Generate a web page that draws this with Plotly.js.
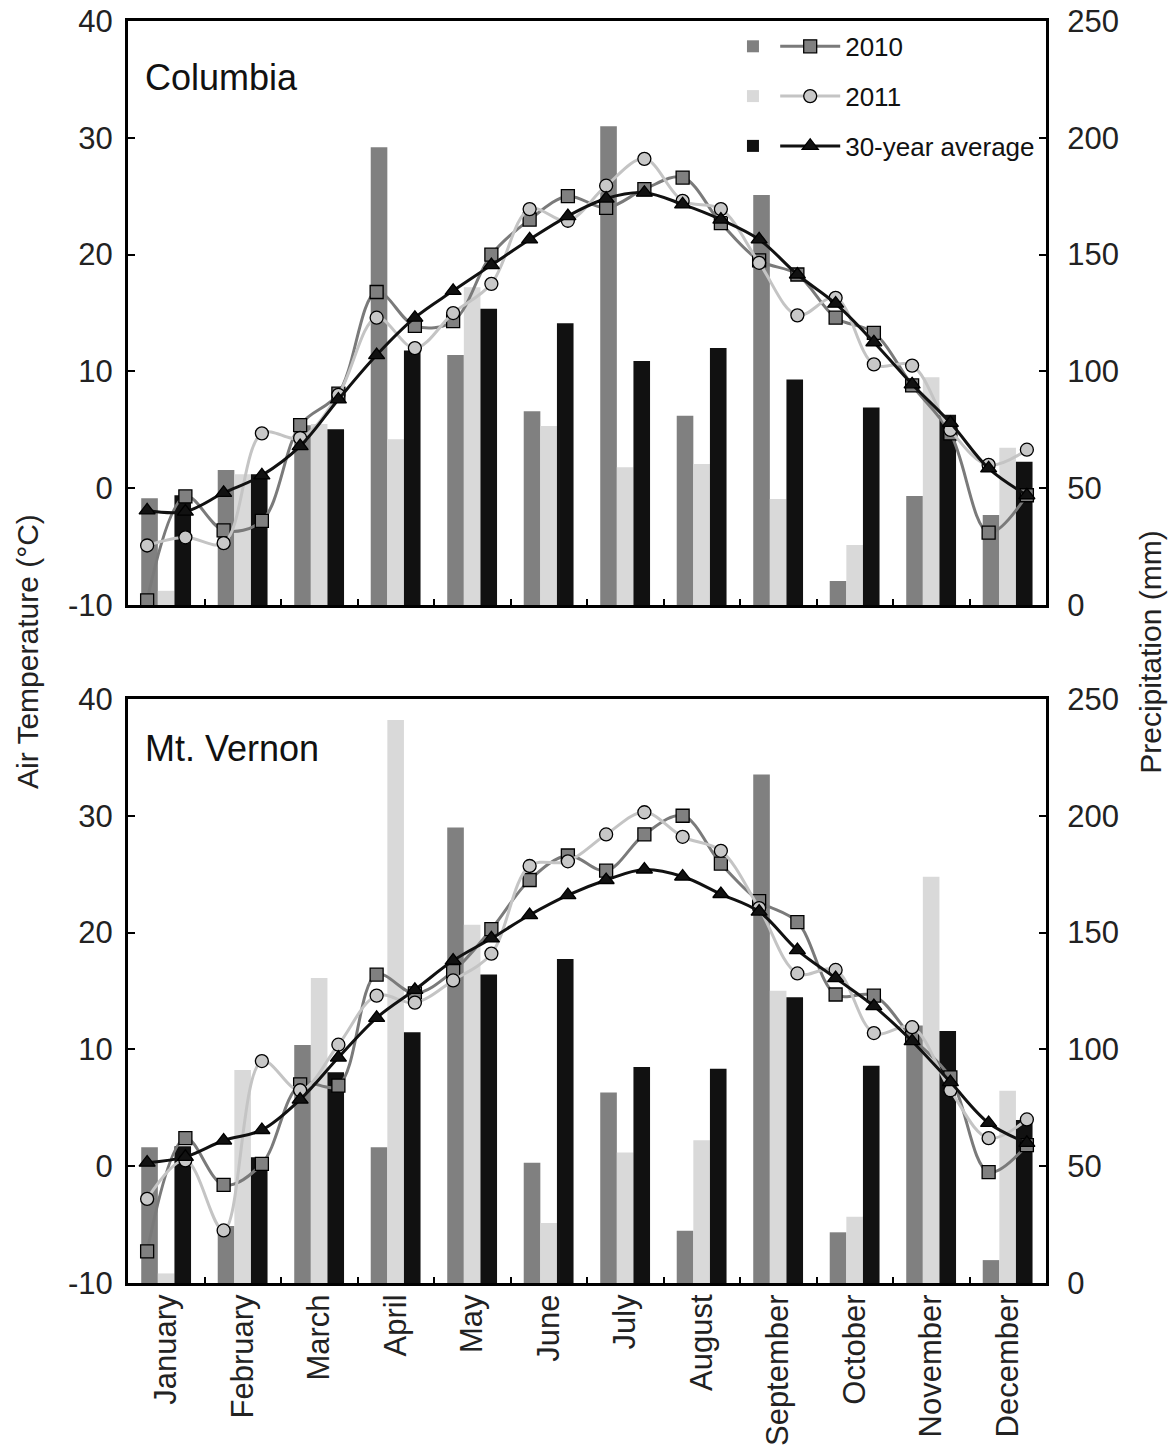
<!DOCTYPE html>
<html>
<head>
<meta charset="utf-8">
<script src="https://cdn.plot.ly/plotly-3.0.1.min.js"></script>
<style>html,body{margin:0;padding:0;background:#fff;}</style>
</head>
<body>
<div id="chart" style="width:1174px;height:1455px;"></div>
<script>
const months = ["January","February","March","April","May","June","July","August","September","October","November","December"];
const seriesNames = ["2010","2011","30-year average"];

// Precipitation (mm), monthly
const colPrecip2010 = [45.7, 57.8, 77, 196, 107, 83, 205, 81, 175.5, 10.3, 46.7, 38.5];
const colPrecip2011 = [6.1, 56, 77.5, 71, 136, 76.6, 59, 60.4, 45.4, 25.7, 97.5, 67.3];
const colPrecip30yr = [47, 56, 75.2, 109, 126.8, 120.6, 104.5, 110, 96.6, 84.6, 81.5, 61.3];

const mvPrecip2010 = [58.1, 24.4, 101.9, 58.1, 195, 51.5, 81.5, 22.4, 217.7, 21.7, 110.2, 9.8];
const mvPrecip2011 = [4.1, 91.2, 130.6, 241, 153.4, 25.7, 55.9, 61.1, 125.1, 28.4, 173.9, 82.3];
const mvPrecip30yr = [58.5, 53.8, 90.2, 107.3, 132, 138.7, 92.5, 91.7, 122.3, 93.0, 107.9, 69.8];

// Air temperature (°C), semi-monthly (two values per month)
const colTemp2010 = [-9.6, -0.7, -3.6, -2.8, 5.4, 8.1, 16.8, 13.9, 14.3, 20.0, 23.0, 25.0, 24.0, 25.6, 26.6, 22.7, 19.5, 18.3, 14.6, 13.3, 8.8, 4.7, -3.8, -0.6];
const colTemp2011 = [-4.9, -4.2, -4.7, 4.7, 4.3, 8.0, 14.6, 12.0, 15.0, 17.5, 23.9, 22.9, 25.9, 28.2, 24.6, 23.9, 19.3, 14.8, 16.3, 10.6, 10.5, 5.0, 2.0, 3.3];
const colTemp30yr = [-1.9, -2.0, -0.4, 1.1, 3.6, 7.6, 11.4, 14.6, 16.9, 19.1, 21.3, 23.3, 24.8, 25.3, 24.3, 23.0, 21.3, 18.3, 15.8, 12.5, 8.9, 5.6, 1.7, -0.6];

const mvTemp2010 = [-7.3, 2.4, -1.6, 0.2, 7.0, 6.9, 16.4, 14.8, 16.7, 20.3, 24.5, 26.6, 25.3, 28.4, 30.0, 25.9, 22.7, 20.9, 14.7, 14.6, 11.0, 7.6, -0.5, 1.8];
const mvTemp2011 = [-2.8, 0.5, -5.5, 9.0, 6.5, 10.4, 14.6, 14.0, 15.9, 18.2, 25.7, 26.1, 28.4, 30.3, 28.2, 27.0, 22.1, 16.5, 16.8, 11.4, 11.9, 6.5, 2.4, 4.0];
const mvTemp30yr = [0.3, 0.8, 2.2, 3.1, 5.7, 9.3, 12.7, 15.1, 17.6, 19.5, 21.5, 23.2, 24.5, 25.4, 24.8, 23.3, 21.8, 18.5, 16.1, 13.7, 10.7, 7.2, 3.7, 2.0];

const tempTicks = [-10, 0, 10, 20, 30, 40];
const tempTickLabels = ["-10", "0", "10", "20", "30", "40"];
const precipTicks = [0, 50, 100, 150, 200, 250];
const precipTickLabels = ["0", "50", "100", "150", "200", "250"];

// positions (month index scale)
const monthCenters = months.map((m, i) => i + 0.5);
const halfMonthX = colTemp2010.map((v, i) => i / 2 + 0.25);
const boundaries = months.slice(1).map((m, i) => i + 1);

const FONT = "Liberation Sans, Arial, Helvetica, sans-serif";
const barColors = ["#808080", "#d9d9d9", "#111111"];
const lineColors = ["#7a7a7a", "#c4c4c4", "#111111"];
const markerFill = ["#808080", "#c8c8c8", "#111111"];
const symbols = ["square", "circle", "triangle-up"];
const msizes = [13, 13, 14];
const barOffsets = [-0.327, -0.110, 0.107];
const barWidth = 0.217;

function barTraces(vals, xa, ya, show) {
  return vals.map((v, k) => ({
    type: "bar", x: monthCenters, y: v, xaxis: xa, yaxis: ya,
    width: barWidth, offset: barOffsets[k],
    marker: {color: barColors[k], line: {width: 0}},
    name: " ", legend: "legend", legendgroup: "b" + k, showlegend: show,
    hoverinfo: "skip"
  }));
}
function lineTraces(vals, xa, ya, show) {
  return vals.map((v, k) => ({
    type: "scatter", mode: "lines+markers", x: halfMonthX, y: v, xaxis: xa, yaxis: ya,
    line: {color: lineColors[k], width: 3, shape: "spline", smoothing: 1},
    marker: {symbol: symbols[k], size: msizes[k], color: markerFill[k], line: {color: "#000", width: 1.3}},
    name: seriesNames[k], legend: "legend2", legendgroup: "l" + k, showlegend: show,
    hoverinfo: "skip"
  }));
}

const data = [].concat(
  barTraces([colPrecip2010, colPrecip2011, colPrecip30yr], "x", "y", true),
  lineTraces([colTemp2010, colTemp2011, colTemp30yr], "x", "y2", true),
  barTraces([mvPrecip2010, mvPrecip2011, mvPrecip30yr], "x2", "y3", false),
  lineTraces([mvTemp2010, mvTemp2011, mvTemp30yr], "x2", "y4", false)
);

const tickFont = {family: FONT, size: 31, color: "#222"};
function xAxis(anchor, labels) {
  return {
    domain: [0, 1], anchor: anchor, range: [0, 12],
    tickmode: "array", tickvals: monthCenters, ticktext: months,
    showticklabels: labels, ticks: "", tickangle: -90, tickfont: tickFont,
    ticklabelstandoff: -4,
    minor: {tickmode: "array", tickvals: boundaries, ticks: "inside", ticklen: 6, tickwidth: 2, tickcolor: "#000", showgrid: false},
    showline: true, linecolor: "#000", linewidth: 3, mirror: true,
    showgrid: false, zeroline: false, fixedrange: true
  };
}
function precipAxis(domain, anchor) {
  return {
    domain: domain, anchor: anchor, side: "right", range: [0, 250],
    tickmode: "array", tickvals: precipTicks, ticktext: precipTickLabels,
    ticks: "inside", ticklen: 7, tickwidth: 2, tickcolor: "#000",
    tickfont: tickFont, ticklabelstandoff: 12,
    showline: true, linecolor: "#000", linewidth: 3,
    showgrid: false, zeroline: false, fixedrange: true
  };
}
function tempAxis(over, anchor) {
  return {
    overlaying: over, anchor: anchor, side: "left", range: [-10, 40],
    tickmode: "array", tickvals: tempTicks, ticktext: tempTickLabels,
    ticks: "inside", ticklen: 7, tickwidth: 2, tickcolor: "#000",
    tickfont: tickFont, ticklabelstandoff: 6,
    showline: true, linecolor: "#000", linewidth: 3,
    showgrid: false, zeroline: false, fixedrange: true
  };
}

const legendBase = {
  font: {family: FONT, size: 26, color: "#111"},
  bgcolor: "rgba(0,0,0,0)", borderwidth: 0,
  xanchor: "left", yanchor: "top", yref: "paper", xref: "paper",
  tracegroupgap: 13, orientation: "v", traceorder: "grouped"
};

const layout = {
  width: 1174, height: 1455,
  margin: {l: 128, r: 128, t: 21, b: 172},
  paper_bgcolor: "#fff", plot_bgcolor: "#fff",
  font: {family: FONT, color: "#222"},
  barmode: "overlay",
  xaxis: xAxis("y", false),
  xaxis2: xAxis("y3", true),
  yaxis: precipAxis([0.5372, 1], "x"),
  yaxis2: tempAxis("y", "x"),
  yaxis3: precipAxis([0, 0.4628], "x2"),
  yaxis4: tempAxis("y3", "x2"),
  legend: Object.assign({}, legendBase, {x: 0.659, y: 0.9985, itemwidth: 30}),
  legend2: Object.assign({}, legendBase, {x: 0.705, y: 0.9985, itemwidth: 60}),
  annotations: [
    {text: "Columbia", xref: "x domain", yref: "y domain", x: 0.016, y: 0.904, xanchor: "left", yanchor: "middle", showarrow: false, font: {family: FONT, size: 36, color: "#111"}},
    {text: "Mt. Vernon", xref: "x2 domain", yref: "y3 domain", x: 0.016, y: 0.916, xanchor: "left", yanchor: "middle", showarrow: false, font: {family: FONT, size: 36, color: "#111"}},
    {text: "Air Temperature (\u00B0C)", xref: "paper", yref: "paper", x: -0.11, y: 0.5, xanchor: "center", yanchor: "middle", textangle: -90, showarrow: false, font: {family: FONT, size: 30, color: "#222"}},
    {text: "Precipitation (mm)", xref: "paper", yref: "paper", x: 1.113, y: 0.5, xanchor: "center", yanchor: "middle", textangle: -90, showarrow: false, font: {family: FONT, size: 30, color: "#222"}}
  ]
};

Plotly.newPlot("chart", data, layout, {staticPlot: true, displayModeBar: false});
</script>
</body>
</html>
